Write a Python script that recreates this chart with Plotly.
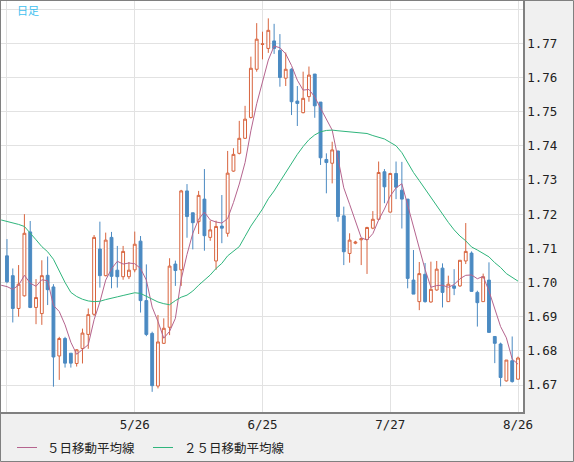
import pandas as pd
import plotly.graph_objects as go

# trading days; the first day only carries the moving-average values
dates = pd.bdate_range('2015-04-23', '2015-08-26').strftime('%Y-%m-%d').tolist()
candle_dates = dates[1:]

opens = [1.7078, 1.7020, 1.6924, 1.6961, 1.7148, 1.6927, 1.6909, 1.7021, 1.6987, 1.6785,
         1.6836, 1.6793, 1.6763, 1.6807, 1.6848, 1.6907, 1.7098, 1.7020, 1.7132, 1.7036,
         1.7017, 1.7017, 1.7037, 1.7121, 1.6947, 1.6851, 1.6697, 1.6822, 1.6869, 1.7054,
         1.7037, 1.7268, 1.7204, 1.7178, 1.7244, 1.7132, 1.7063, 1.7165, 1.7144, 1.7326,
         1.7378, 1.7422, 1.7483, 1.7624, 1.7697, 1.7685, 1.7707, 1.7679, 1.7598, 1.7624,
         1.7531, 1.7497, 1.7544, 1.7610, 1.7528, 1.7360, 1.7349, 1.7385, 1.7195, 1.7085,
         1.7115, 1.7125, 1.7126, 1.7159, 1.7185, 1.7324, 1.7206, 1.7319, 1.7270, 1.7244,
         1.7007, 1.6944, 1.7024, 1.6943, 1.6978, 1.7042, 1.6944, 1.6990, 1.6990, 1.7063,
         1.7086, 1.6971, 1.6944, 1.7007, 1.6842, 1.6820, 1.6712, 1.6771, 1.6717]
highs = [1.7127, 1.7041, 1.7051, 1.7200, 1.7180, 1.7010, 1.7065, 1.7076, 1.6995, 1.6841,
         1.6841, 1.6793, 1.6805, 1.6865, 1.6924, 1.7139, 1.7178, 1.7146, 1.7148, 1.7107,
         1.7107, 1.7060, 1.7149, 1.7136, 1.7053, 1.6856, 1.6905, 1.6895, 1.7071, 1.7064,
         1.7271, 1.7288, 1.7204, 1.7268, 1.7332, 1.7181, 1.7181, 1.7256, 1.7385, 1.7393,
         1.7473, 1.7517, 1.7661, 1.7759, 1.7734, 1.7773, 1.7757, 1.7727, 1.7673, 1.7627,
         1.7575, 1.7617, 1.7632, 1.7610, 1.7528, 1.7378, 1.7412, 1.7385, 1.7222, 1.7144,
         1.7122, 1.7129, 1.7163, 1.7209, 1.7354, 1.7332, 1.7321, 1.7354, 1.7353, 1.7244,
         1.7095, 1.7060, 1.7057, 1.7061, 1.7063, 1.7056, 1.7020, 1.7039, 1.7065, 1.7174,
         1.7091, 1.6976, 1.7026, 1.7059, 1.6842, 1.6824, 1.6773, 1.6842, 1.6783]
lows = [1.6998, 1.6883, 1.6900, 1.6959, 1.6925, 1.6878, 1.6876, 1.6934, 1.6695, 1.6715,
        1.6751, 1.6751, 1.6754, 1.6763, 1.6806, 1.6902, 1.6985, 1.7018, 1.6983, 1.6985,
        1.7008, 1.7010, 1.7030, 1.6912, 1.6843, 1.6680, 1.6690, 1.6820, 1.6846, 1.6990,
        1.6990, 1.7131, 1.7097, 1.7142, 1.7093, 1.7122, 1.7037, 1.7115, 1.7134, 1.7324,
        1.7375, 1.7420, 1.7480, 1.7617, 1.7653, 1.7672, 1.7669, 1.7573, 1.7575, 1.7490,
        1.7458, 1.7495, 1.7529, 1.7482, 1.7344, 1.7261, 1.7290, 1.7178, 1.7051, 1.7058,
        1.7112, 1.7051, 1.7025, 1.7156, 1.7183, 1.7232, 1.7205, 1.7244, 1.7158, 1.6983,
        1.6966, 1.6919, 1.6941, 1.6941, 1.6976, 1.6927, 1.6944, 1.6963, 1.6987, 1.7054,
        1.6974, 1.6871, 1.6944, 1.6854, 1.6764, 1.6696, 1.6710, 1.6707, 1.6717]
closes = [1.7002, 1.6924, 1.6995, 1.7144, 1.6927, 1.6956, 1.7020, 1.6979, 1.6782, 1.6836,
          1.6764, 1.6764, 1.6803, 1.6852, 1.6906, 1.7132, 1.7020, 1.7124, 1.7018, 1.7017,
          1.7091, 1.7036, 1.7112, 1.6947, 1.6848, 1.6698, 1.6826, 1.6866, 1.7048, 1.7035,
          1.7268, 1.7193, 1.7175, 1.7255, 1.7137, 1.7154, 1.7164, 1.7159, 1.7320, 1.7375,
          1.7422, 1.7478, 1.7627, 1.7712, 1.7698, 1.7738, 1.7685, 1.7600, 1.7624, 1.7529,
          1.7524, 1.7539, 1.7607, 1.7517, 1.7365, 1.7351, 1.7388, 1.7193, 1.7090, 1.7124,
          1.7118, 1.7128, 1.7161, 1.7185, 1.7322, 1.7280, 1.7319, 1.7279, 1.7244, 1.7012,
          1.6966, 1.7026, 1.6944, 1.6980, 1.7039, 1.6971, 1.6995, 1.6983, 1.7065, 1.7091,
          1.6974, 1.6941, 1.7017, 1.6854, 1.6822, 1.6722, 1.6773, 1.6710, 1.6779]

ma5 = [1.6992, 1.6988, 1.6980, 1.6992, 1.7021, 1.6998, 1.6989, 1.7008, 1.7005, 1.6933,
       1.6915, 1.6876, 1.6825, 1.6790, 1.6804, 1.6818, 1.6891, 1.6943, 1.7007, 1.7040,
       1.7062, 1.7054, 1.7057, 1.7055, 1.7041, 1.7007, 1.6928, 1.6886, 1.6837, 1.6857,
       1.6895, 1.7009, 1.7082, 1.7144, 1.7185, 1.7206, 1.7183, 1.7177, 1.7174, 1.7187,
       1.7234, 1.7288, 1.7351, 1.7444, 1.7523, 1.7587, 1.7651, 1.7692, 1.7687, 1.7669,
       1.7635, 1.7592, 1.7563, 1.7565, 1.7543, 1.7510, 1.7476, 1.7446, 1.7363, 1.7277,
       1.7229, 1.7183, 1.7131, 1.7124, 1.7143, 1.7183, 1.7215, 1.7253, 1.7277, 1.7289,
       1.7227, 1.7164, 1.7105, 1.7038, 1.6986, 1.6991, 1.6992, 1.6986, 1.6994, 1.7011,
       1.7021, 1.7022, 1.7011, 1.7018, 1.6975, 1.6922, 1.6871, 1.6838, 1.6776, 1.6761]
ma25 = [1.7183, 1.7179, 1.7174, 1.7170, 1.7164, 1.7146, 1.7125, 1.7105, 1.7090, 1.7068,
        1.7034, 1.7000, 1.6971, 1.6959, 1.6951, 1.6946, 1.6944, 1.6945, 1.6950, 1.6955,
        1.6958, 1.6962, 1.6967, 1.6970, 1.6968, 1.6959, 1.6950, 1.6943, 1.6938, 1.6935,
        1.6947, 1.6957, 1.6963, 1.6975, 1.6992, 1.7007, 1.7022, 1.7041, 1.7056, 1.7078,
        1.7092, 1.7105, 1.7135, 1.7165, 1.7190, 1.7215, 1.7245, 1.7268, 1.7295, 1.7322,
        1.7350, 1.7375, 1.7398, 1.7418, 1.7432, 1.7441, 1.7445, 1.7446, 1.7444, 1.7442,
        1.7440, 1.7438, 1.7437, 1.7436, 1.7430, 1.7426, 1.7420, 1.7410, 1.7400, 1.7380,
        1.7351, 1.7322, 1.7298, 1.7273, 1.7249, 1.7224, 1.7200, 1.7176, 1.7154, 1.7136,
        1.7122, 1.7104, 1.7095, 1.7085, 1.7075, 1.7058, 1.7044, 1.7026, 1.7014, 1.7004]

tick_dates = ['2015-04-24', '2015-05-26', '2015-06-25', '2015-07-27', '2015-08-26']
tick_labels = ['', '5/26', '6/25', '7/27', '8/26']
price_ticks = [1.67, 1.68, 1.69, 1.70, 1.71, 1.72, 1.73, 1.74, 1.75, 1.76, 1.77, 1.78]
price_labels = ['%.2f' % p for p in price_ticks[:-1]] + ['']

ma5_name = '５日移動平均線'
ma25_name = '２５日移動平均線'

C_UP = '#d8643e'
C_DOWN = '#4b8ac2'
C_MA5 = '#b5648e'
C_MA25 = '#2fb57c'

# plot area in pixels
L, R, T, B = 1, 523, 1, 412
W, H = R - L, B - T


def px(x):
    return (x - L) / W


def py(y):
    return (B - y) / H


fig = go.Figure()

fig.add_trace(go.Candlestick(
    x=candle_dates, open=opens, high=highs, low=lows, close=closes,
    increasing=dict(line=dict(color=C_UP, width=1), fillcolor='white'),
    decreasing=dict(line=dict(color=C_DOWN, width=1), fillcolor=C_DOWN),
    showlegend=False, hoverinfo='skip',
))
fig.add_trace(go.Scatter(x=dates, y=ma5, mode='lines', name=ma5_name,
                         line=dict(color=C_MA5, width=1), showlegend=False))
fig.add_trace(go.Scatter(x=dates, y=ma25, mode='lines', name=ma25_name,
                         line=dict(color=C_MA25, width=1), showlegend=False))

mono = dict(family='DejaVu Sans Mono', size=12.5, color='#222222')
jp = dict(family='Noto Sans CJK JP', size=12.5, color='#222222')

fig.update_layout(
    width=574, height=462,
    margin=dict(l=L, r=574 - R, t=T, b=462 - B, autoexpand=False),
    paper_bgcolor='#f0f0f0', plot_bgcolor='white',
    showlegend=False, hovermode=False,
    xaxis=dict(
        type='category', categoryorder='array', categoryarray=dates,
        range=[-0.03, 89.86], rangeslider=dict(visible=False),
        tickvals=tick_dates, ticktext=tick_labels, tickfont=mono,
        showgrid=True, gridcolor='#e2e2e2', gridwidth=1,
        showline=True, linecolor='#808080', linewidth=1.5, mirror=True,
        ticks='', zeroline=False, fixedrange=True, automargin=False,
    ),
    yaxis=dict(
        side='right', range=[1.6621, 1.78238],
        tickvals=price_ticks, ticktext=price_labels, tickfont=mono,
        showgrid=True, gridcolor='#e2e2e2', gridwidth=1,
        showline=True, linecolor='#808080', linewidth=1.5, mirror=True,
        ticks='', zeroline=False, fixedrange=True, automargin=False,
    ),
)

shapes = [
    # outer frame
    dict(type='rect', xref='paper', yref='paper', x0=px(0.5), x1=px(573.5), y0=py(461.5), y1=py(0.5),
         line=dict(color='#808080', width=1), layer='above'),
    # legend samples
    dict(type='line', xref='paper', yref='paper', x0=px(17), x1=px(37), y0=py(447.5), y1=py(447.5),
         line=dict(color=C_MA5, width=1)),
    dict(type='line', xref='paper', yref='paper', x0=px(153), x1=px(173), y0=py(447.5), y1=py(447.5),
         line=dict(color=C_MA25, width=1)),
]
fig.update_layout(shapes=shapes)

fig.add_annotation(x=px(45), y=py(448), xref='paper', yref='paper', text=ma5_name,
                   showarrow=False, xanchor='left', yanchor='middle', font=jp)
fig.add_annotation(x=px(182), y=py(448), xref='paper', yref='paper', text=ma25_name,
                   showarrow=False, xanchor='left', yanchor='middle', font=jp)
fig.add_annotation(x=px(15), y=py(10), xref='paper', yref='paper', text='日足',
                   showarrow=False, xanchor='left', yanchor='middle',
                   font=dict(family='Noto Sans CJK JP', size=11, color='#3fbfef'))

# page body has a default 8px margin; drop it so the chart sits at the window corner
fig.write_html("out.html", config={'displayModeBar': False},
               post_script="document.body.style.margin='0';document.body.style.overflow='hidden';")
